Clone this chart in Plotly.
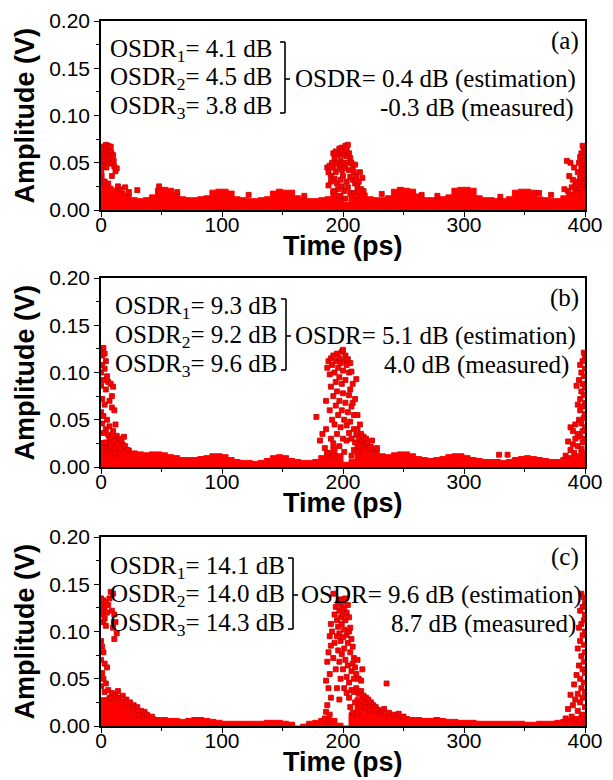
import plotly.graph_objects as go

W, H = 613, 780

# ---------------- data ----------------
TICK_T = [0, 100, 200, 300, 400]
TICK_V = [0.00, 0.05, 0.10, 0.15, 0.20]
T_BAND = list(range(0, 401, 5))

# upper edge of the dense noise band (V), one value every 5 ps
BAND_A = [0.028, 0.025, 0.023, 0.020, 0.017, 0.013, 0.012, 0.013, 0.016, 0.023,
          0.024, 0.023, 0.018, 0.014, 0.013, 0.013, 0.014, 0.015, 0.021, 0.022,
          0.022, 0.020, 0.014, 0.013, 0.012, 0.012, 0.013, 0.014, 0.020, 0.022,
          0.021, 0.021, 0.015, 0.013, 0.012, 0.012, 0.013, 0.014, 0.021, 0.017,
          0.008, 0.015, 0.023, 0.018, 0.014, 0.013, 0.013, 0.015, 0.022, 0.024,
          0.023, 0.022, 0.017, 0.013, 0.013, 0.013, 0.014, 0.016, 0.023, 0.024,
          0.024, 0.023, 0.015, 0.013, 0.013, 0.012, 0.012, 0.014, 0.021, 0.022,
          0.022, 0.021, 0.014, 0.013, 0.012, 0.012, 0.015, 0.019, 0.023, 0.033,
          0.038]
BAND_B = [0.028, 0.032, 0.030, 0.026, 0.020, 0.017, 0.016, 0.015, 0.016, 0.016,
          0.015, 0.013, 0.012, 0.010, 0.010, 0.010, 0.011, 0.012, 0.014, 0.014,
          0.013, 0.010, 0.008, 0.007, 0.007, 0.006, 0.007, 0.009, 0.012, 0.013,
          0.012, 0.009, 0.008, 0.007, 0.007, 0.008, 0.012, 0.017, 0.022, 0.014,
          0.005, 0.008, 0.027, 0.032, 0.024, 0.018, 0.014, 0.013, 0.015, 0.016,
          0.016, 0.014, 0.011, 0.010, 0.009, 0.010, 0.011, 0.013, 0.014, 0.014,
          0.012, 0.010, 0.009, 0.008, 0.008, 0.008, 0.007, 0.008, 0.010, 0.011,
          0.012, 0.011, 0.010, 0.009, 0.008, 0.008, 0.010, 0.012, 0.014, 0.017,
          0.022]
BAND_C = [0.030, 0.032, 0.032, 0.028, 0.024, 0.018, 0.014, 0.012, 0.010, 0.009,
          0.009, 0.008, 0.008, 0.007, 0.008, 0.009, 0.009, 0.008, 0.007, 0.006,
          0.005, 0.005, 0.005, 0.005, 0.005, 0.005, 0.005, 0.006, 0.006, 0.006,
          0.005, 0.004, 0.000, 0.002, 0.005, 0.006, 0.008, 0.010, 0.008, 0.003,
          0.000, 0.014, 0.030, 0.032, 0.027, 0.020, 0.015, 0.013, 0.012, 0.011,
          0.010, 0.009, 0.009, 0.008, 0.008, 0.009, 0.008, 0.007, 0.007, 0.006,
          0.006, 0.006, 0.005, 0.005, 0.005, 0.005, 0.005, 0.005, 0.005, 0.005,
          0.004, 0.004, 0.005, 0.005, 0.005, 0.006, 0.007, 0.008, 0.010, 0.012,
          0.014]

# scattered samples (time ps, amplitude V)
PTS_A = [
    (0, 0.067), (0.5, 0.061), (0, 0.055), (1, 0.049), (0, 0.043), (0.5, 0.037), (1, 0.031),
    (2, 0.065), (2.5, 0.059), (2, 0.053), (3, 0.047),
    (4, 0.069), (4.5, 0.063), (4, 0.057), (5, 0.051), (4.5, 0.045),
    (6, 0.068), (6.5, 0.062), (6, 0.056), (7, 0.050),
    (8, 0.067), (8.5, 0.061), (8, 0.055), (9, 0.049),
    (10, 0.058), (10.5, 0.052), (11, 0.046), (12, 0.041), (13, 0.044), (9, 0.036),
    (3, 0.030), (6, 0.028), (14, 0.025), (16, 0.022), (20, 0.024), (23, 0.019),
    (30, 0.021), (48, 0.025), (63, 0.019), (122, 0.016), (168, 0.015),
    (187, 0.045), (188, 0.040), (189, 0.047), (190, 0.036), (190, 0.030), (188, 0.026), (191, 0.050),
    (192, 0.060), (193, 0.055), (194, 0.062), (192, 0.045), (195, 0.050), (194, 0.040), (196, 0.058),
    (193, 0.033), (195, 0.028), (196, 0.022), (192, 0.020),
    (197, 0.065), (198, 0.060), (199, 0.066), (200, 0.062), (201, 0.058), (198, 0.052), (200, 0.050),
    (197, 0.045), (199, 0.042), (201, 0.046), (200, 0.036), (198, 0.032), (199, 0.025), (201, 0.020),
    (197, 0.015),
    (202, 0.068), (203, 0.064), (204, 0.069), (205, 0.060), (206, 0.055), (203, 0.057), (204, 0.050),
    (202, 0.044), (205, 0.042), (206, 0.035), (203, 0.030), (204, 0.024), (206, 0.018), (202, 0.012),
    (207, 0.050), (208, 0.045), (209, 0.040), (210, 0.048), (208, 0.032), (210, 0.028), (211, 0.035),
    (212, 0.025), (213, 0.030), (215, 0.022), (217, 0.020), (209, 0.018), (211, 0.015), (214, 0.040),
    (216, 0.034),
    (232, 0.017), (265, 0.016), (278, 0.015), (330, 0.014), (362, 0.018), (372, 0.016),
    (398, 0.068), (399, 0.064), (400, 0.062), (397, 0.060), (396, 0.056), (400, 0.056), (398, 0.052),
    (395, 0.050), (399, 0.047), (397, 0.044), (400, 0.042), (394, 0.040), (398, 0.038), (396, 0.034),
    (400, 0.032), (393, 0.030), (399, 0.028), (397, 0.025), (395, 0.022), (391, 0.045), (388, 0.050),
    (385, 0.052), (387, 0.036), (390, 0.032), (392, 0.026), (389, 0.024), (386, 0.020), (383, 0.022),
    (394, 0.018),
]

PTS_B = [
    (0, 0.124), (1, 0.118), (2, 0.126), (3, 0.120), (4, 0.112), (1, 0.108), (0, 0.100), (3, 0.104),
    (5, 0.096), (2, 0.092), (0, 0.086), (4, 0.082), (6, 0.090), (8, 0.088), (10, 0.085), (9, 0.075),
    (7, 0.070), (1, 0.072), (3, 0.066), (9, 0.063), (11, 0.060), (0, 0.058), (2, 0.054), (5, 0.050),
    (1, 0.046), (7, 0.043), (4, 0.040), (12, 0.045), (10, 0.038), (2, 0.036), (6, 0.034), (9, 0.032),
    (13, 0.033), (15, 0.030), (17, 0.028), (19, 0.032), (11, 0.027), (14, 0.024), (4, 0.026),
    (8, 0.022), (16, 0.020), (20, 0.022), (22, 0.018), (1, 0.020), (6, 0.015), (12, 0.014),
    (178, 0.053), (181, 0.028), (183, 0.035), (185, 0.020), (186, 0.040), (186, 0.070), (187, 0.105),
    (188, 0.112), (189, 0.098), (189, 0.060), (190, 0.115), (190, 0.085), (190, 0.030), (191, 0.108),
    (191, 0.050), (192, 0.118), (192, 0.075), (192, 0.025), (193, 0.100), (193, 0.045), (194, 0.112),
    (194, 0.090), (194, 0.065), (195, 0.120), (195, 0.080), (195, 0.035), (196, 0.105), (196, 0.055),
    (197, 0.115), (197, 0.095), (197, 0.070), (197, 0.022), (198, 0.110), (198, 0.042), (199, 0.122),
    (199, 0.088), (199, 0.060), (200, 0.124), (200, 0.102), (200, 0.078), (200, 0.030), (201, 0.112),
    (201, 0.050), (201, 0.016), (202, 0.118), (202, 0.092), (202, 0.068), (203, 0.108), (203, 0.044),
    (203, 0.028), (204, 0.114), (204, 0.058), (205, 0.100), (205, 0.076), (205, 0.036), (206, 0.082),
    (206, 0.110), (206, 0.048), (207, 0.101), (207, 0.064), (207, 0.030), (208, 0.068), (208, 0.088),
    (209, 0.040), (209, 0.055), (210, 0.026), (210, 0.072), (211, 0.093), (211, 0.034), (212, 0.055),
    (212, 0.040), (213, 0.030), (214, 0.045), (214, 0.022), (215, 0.035), (216, 0.028), (217, 0.032),
    (218, 0.024), (219, 0.030), (220, 0.026), (222, 0.020), (224, 0.028), (226, 0.018), (228, 0.020),
    (187, 0.015), (193, 0.012), (207, 0.012), (209, 0.018), (212, 0.016),
    (329, 0.013), (336, 0.013),
    (399, 0.121), (400, 0.116), (398, 0.112), (396, 0.108), (400, 0.104), (397, 0.100), (399, 0.096),
    (395, 0.092), (398, 0.088), (393, 0.086), (400, 0.084), (397, 0.080), (399, 0.076), (396, 0.072),
    (400, 0.068), (394, 0.066), (398, 0.064), (396, 0.060), (400, 0.056), (399, 0.052), (395, 0.050),
    (397, 0.046), (392, 0.045), (400, 0.042), (388, 0.042), (390, 0.038), (398, 0.038), (394, 0.035),
    (396, 0.032), (392, 0.030), (400, 0.030), (386, 0.027), (398, 0.026), (390, 0.024), (394, 0.022),
    (397, 0.019), (388, 0.018), (391, 0.015), (399, 0.014), (384, 0.012),
]

PTS_C = [
    (0, 0.135), (1, 0.128), (2, 0.133), (3, 0.125), (4, 0.131), (1, 0.118), (3, 0.114), (5, 0.120),
    (6, 0.128), (0, 0.122), (2, 0.110), (4, 0.106), (8, 0.142), (10, 0.140), (7, 0.135), (9, 0.122),
    (11, 0.118), (12, 0.110), (10, 0.104), (13, 0.098), (11, 0.092), (0, 0.090), (1, 0.084),
    (2, 0.078), (0, 0.070), (3, 0.066), (5, 0.062), (1, 0.056), (2, 0.050), (4, 0.045), (0, 0.042),
    (3, 0.036), (6, 0.038), (9, 0.035), (12, 0.033), (15, 0.030), (18, 0.032), (21, 0.028),
    (24, 0.025), (27, 0.022), (30, 0.020), (33, 0.016), (36, 0.015), (14, 0.037), (8, 0.030),
    (20, 0.024), (26, 0.018), (31, 0.012), (38, 0.012), (42, 0.010),
    (185, 0.008), (186, 0.015), (188, 0.004), (187, 0.022), (189, 0.012), (190, 0.030), (188, 0.040),
    (186, 0.048), (189, 0.055), (187, 0.068), (188, 0.078), (190, 0.085), (189, 0.095), (190, 0.108),
    (191, 0.100), (192, 0.140), (192, 0.072), (193, 0.118), (193, 0.088), (194, 0.126), (194, 0.060),
    (195, 0.112), (195, 0.095), (195, 0.040), (196, 0.130), (196, 0.105), (196, 0.080), (197, 0.122),
    (197, 0.098), (197, 0.068), (197, 0.028), (198, 0.134), (198, 0.115), (198, 0.090), (198, 0.050),
    (199, 0.126), (199, 0.108), (199, 0.076), (200, 0.118), (200, 0.132), (200, 0.094), (200, 0.060),
    (201, 0.124), (201, 0.102), (201, 0.082), (201, 0.040), (202, 0.135), (202, 0.112), (202, 0.070),
    (203, 0.120), (203, 0.096), (203, 0.052), (204, 0.128), (204, 0.088), (204, 0.064), (205, 0.115),
    (205, 0.100), (205, 0.046), (206, 0.104), (206, 0.078), (207, 0.092), (207, 0.058), (208, 0.084),
    (208, 0.066), (209, 0.072), (209, 0.050), (210, 0.062), (211, 0.055), (212, 0.070), (213, 0.050),
    (215, 0.048), (216, 0.060), (236, 0.045),
    (203, 0.035), (205, 0.030), (207, 0.038), (209, 0.036), (211, 0.040), (213, 0.034), (215, 0.037),
    (217, 0.032), (219, 0.030), (221, 0.028), (223, 0.025), (225, 0.022), (227, 0.020), (229, 0.017),
    (231, 0.015), (234, 0.018), (238, 0.014), (242, 0.012), (246, 0.013), (250, 0.010), (206, 0.020),
    (210, 0.025), (214, 0.022), (218, 0.020), (222, 0.016), (208, 0.014), (212, 0.012),
    (397, 0.140), (399, 0.136), (400, 0.130), (398, 0.126), (396, 0.122), (400, 0.118), (399, 0.112),
    (397, 0.108), (395, 0.104), (400, 0.100), (398, 0.096), (396, 0.090), (399, 0.086), (394, 0.082),
    (400, 0.078), (397, 0.074), (399, 0.068), (395, 0.064), (398, 0.060), (400, 0.056), (393, 0.054),
    (396, 0.050), (399, 0.046), (391, 0.044), (397, 0.040), (400, 0.036), (394, 0.034), (388, 0.033),
    (398, 0.030), (392, 0.028), (396, 0.025), (390, 0.022), (400, 0.020), (386, 0.018), (394, 0.016),
    (398, 0.012), (389, 0.010), (392, 0.006), (396, 0.004), (384, 0.008),
]

PANEL_LABELS = ["(a)", "(b)", "(c)"]
OSDR_LINES = [
    ["4.1", "4.5", "3.8"],
    ["9.3", "9.2", "9.6"],
    ["14.1", "14.0", "14.3"],
]
OSDR_EST = ["0.4", "5.1", "9.6"]
OSDR_MEAS = ["-0.3", "4.0", "8.7"]

# ---------------- layout geometry (pixels) ----------------
X_LEFT, X_RIGHT = 101, 585
PANEL_TOP = [21, 278, 537]
PANEL_BOT = [210, 467, 726]

RED = "#ff0000"
EDGE = "#c80000"
SERIF = "Liberation Serif, Times New Roman, serif"
SANS = "Liberation Sans, Arial, sans-serif"
TXT = 25


def px(x):
    return x / W


def py(y):
    return 1 - y / H


fig = go.Figure()
bands = [BAND_A, BAND_B, BAND_C]
pts = [PTS_A, PTS_B, PTS_C]

layout = dict(
    width=W, height=H, margin=dict(l=0, r=0, t=0, b=0, pad=0, autoexpand=False),
    autosize=False, paper_bgcolor="white", plot_bgcolor="white", showlegend=False,
)

annotations = []
shapes = []

for i in range(3):
    sfx = "" if i == 0 else str(i + 1)
    xa, ya = "x" + sfx, "y" + sfx
    fig.add_trace(go.Scatter(
        x=T_BAND, y=bands[i], mode="lines", fill="tozeroy", line_shape="hv",
        line=dict(color=RED, width=1), fillcolor=RED,
        xaxis=xa, yaxis=ya, hoverinfo="skip"))
    fig.add_trace(go.Scatter(
        x=[p[0] for p in pts[i]], y=[p[1] for p in pts[i]], mode="markers",
        marker=dict(symbol="square", size=5, color=RED, line=dict(color=EDGE, width=0.8)),
        xaxis=xa, yaxis=ya))

    top, bot = PANEL_TOP[i], PANEL_BOT[i]
    axis_common = dict(
        showline=True, linecolor="black", linewidth=1.6, mirror=True,
        ticks="outside", tickcolor="black", tickwidth=1.4, ticklen=5,
        showgrid=False, zeroline=False, automargin=False,
        tickfont=dict(family=SANS, size=21, color="black"),
    )
    layout["xaxis" + sfx] = dict(
        axis_common, domain=[px(X_LEFT), px(X_RIGHT)], range=[0, 400],
        tickvals=TICK_T, ticktext=[str(t) for t in TICK_T],
        minor=dict(dtick=50, ticklen=3, tickwidth=1.2, tickcolor="black", ticks="outside"),
        anchor=ya, ticklabelstandoff=-10,
    )
    layout["yaxis" + sfx] = dict(
        axis_common, domain=[py(bot), py(top)], range=[0, 0.20],
        tickvals=TICK_V, ticktext=["%.2f" % v for v in TICK_V],
        minor=dict(dtick=0.025, ticklen=3, tickwidth=1.2, tickcolor="black", ticks="outside"),
        anchor=xa,
    )

    # axis titles
    annotations.append(dict(
        text="<b>Amplitude (V)</b>", x=px(24), y=py((top + bot) / 2), xref="paper", yref="paper",
        textangle=-90, showarrow=False, font=dict(family=SANS, size=27, color="black"),
        xanchor="center", yanchor="middle"))
    annotations.append(dict(
        text="<b>Time (ps)</b>", x=px((X_LEFT + X_RIGHT) / 2), y=py(bot + 36), xref="paper",
        yref="paper", showarrow=False, font=dict(family=SANS, size=27, color="black"),
        xanchor="center", yanchor="middle"))

    # OSDR text block
    lines_y = [top + 30, top + 58, top + 87]
    left_x = [108, 113, 108][i]
    for k in range(3):
        annotations.append(dict(
            text="OSDR<sub>%d</sub>= %s dB" % (k + 1, OSDR_LINES[i][k]),
            x=px(left_x), y=py(lines_y[k]), xref="paper", yref="paper", showarrow=False,
            xanchor="left", yanchor="middle", font=dict(family=SERIF, size=TXT, color="black")))
    bx = [285, 286, 293][i]
    btop, bbot, bmid = top + 21, top + 92, top + 58
    for (x0, y0, x1, y1) in [(bx, btop, bx, bbot), (bx - 5, btop, bx, btop),
                             (bx - 5, bbot, bx, bbot), (bx, bmid, bx + 5, bmid)]:
        shapes.append(dict(type="line", xref="paper", yref="paper",
                           x0=px(x0), y0=py(y0), x1=px(x1), y1=py(y1),
                           line=dict(color="black", width=1.6)))
    est_left = [293, 293, 299][i]
    annotations.append(dict(
        text="OSDR= %s dB (estimation)" % OSDR_EST[i], x=px(est_left), y=py(bmid),
        xref="paper", yref="paper", showarrow=False, xanchor="left", yanchor="middle",
        font=dict(family=SERIF, size=TXT, color="black")))
    meas_right = [576, 571, 578][i]
    annotations.append(dict(
        text="%s dB (measured)" % OSDR_MEAS[i], x=px(meas_right), y=py(top + 87),
        xref="paper", yref="paper", showarrow=False, xanchor="right", yanchor="middle",
        font=dict(family=SERIF, size=TXT, color="black")))
    annotations.append(dict(
        text=PANEL_LABELS[i], x=px(581), y=py(top + 20), xref="paper", yref="paper",
        showarrow=False, xanchor="right", yanchor="middle",
        font=dict(family=SERIF, size=TXT, color="black")))

layout["annotations"] = annotations
layout["shapes"] = shapes
fig.update_layout(**layout)

fig.write_html("out.html", config={"displayModeBar": False, "responsive": False},
               post_script="document.body.style.margin='0px';")
